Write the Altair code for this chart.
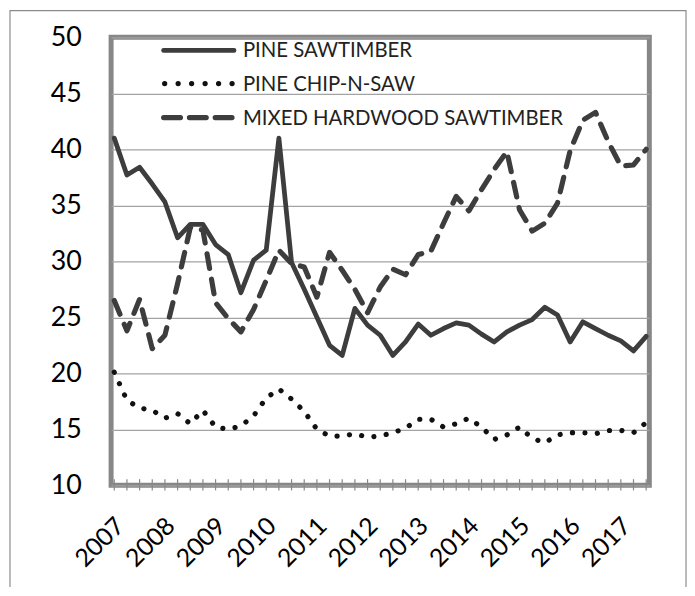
import altair as alt
import pandas as pd

# ---- data ----
years = ["2007", "2008", "2009", "2010", "2011", "2012", "2013", "2014", "2015", "2016", "2017"]
quarters = ["Q1", "Q2", "Q3", "Q4"]
periods = [f"{y} {q}" for y in years for q in quarters][:43]

series_names = ["PINE SAWTIMBER", "PINE CHIP-N-SAW", "MIXED HARDWOOD SAWTIMBER"]

pine_sawtimber = [41.0, 37.7, 38.4, 36.9, 35.3, 32.1, 33.3, 33.3, 31.5, 30.6, 27.2,
                  30.1, 31.0, 41.0, 29.9, 27.5, 25.0, 22.5, 21.6, 25.8, 24.3, 23.4,
                  21.6, 22.8, 24.4, 23.4, 24.0, 24.5, 24.3, 23.5, 22.8, 23.7, 24.3,
                  24.8, 25.9, 25.2, 22.8, 24.6, 24.0, 23.4, 22.9, 22.0, 23.3]
pine_chip_n_saw = [20.1, 17.6, 16.9, 16.7, 16.0, 16.4, 15.5, 16.7, 15.2, 15.0, 15.3,
                   16.2, 17.8, 18.6, 17.7, 16.6, 15.0, 14.4, 14.4, 14.6, 14.3, 14.4,
                   14.7, 15.1, 15.9, 15.9, 15.2, 15.5, 16.0, 15.2, 14.1, 14.5, 15.2,
                   14.2, 13.8, 14.5, 14.7, 14.7, 14.6, 14.9, 14.9, 14.7, 15.6]
mixed_hardwood = [26.5, 23.8, 26.6, 22.2, 23.4, 28.0, 33.0, 32.8, 26.3, 24.9, 23.7,
                  25.7, 28.3, 31.0, 29.8, 29.5, 26.8, 30.8, 29.2, 27.5, 25.4, 27.7,
                  29.3, 28.8, 30.6, 30.9, 33.4, 35.8, 34.5, 36.4, 38.2, 39.8, 34.6,
                  32.7, 33.4, 35.2, 39.9, 42.6, 43.3, 40.7, 38.5, 38.6, 40.0]

y_ticks = [10, 15, 20, 25, 30, 35, 40, 45, 50]

df = pd.DataFrame({
    "period": periods,
    series_names[0]: pine_sawtimber,
    series_names[1]: pine_chip_n_saw,
    series_names[2]: mixed_hardwood,
}).melt(id_vars="period", var_name="series", value_name="price")

one = pd.DataFrame({"k": [0]})

FONT = "Lato"
LINE = "#3d3d3d"
FRAME = "#878787"
W, H = 543, 452

x_enc = alt.X(
    "period:O",
    sort=periods,
    scale=alt.Scale(type="point", padding=0.25),
    axis=alt.Axis(
        title=None,
        labelExpr="indexof(datum.label, 'Q1') >= 0 ? slice(datum.label, 0, 4) : ''",
        labelAngle=-45,
        labelAlign="right",
        labelBaseline="top",
        labelFont=FONT,
        labelFontSize=25,
        labelColor="#000000",
        labelPadding=28,
        labelOffset=-3,
        labelOverlap=False,
        labelBound=False,
        labelFlush=False,
        ticks=False,
        domain=False,
        grid=False,
    ),
)
y_enc = alt.Y(
    "price:Q",
    scale=alt.Scale(domain=[10, 50], nice=False, zero=False),
    axis=alt.Axis(
        title=None,
        values=y_ticks,
        labelFont=FONT,
        labelFontSize=27,
        labelColor="#000000",
        labelPadding=30,
        labelFlush=False,
        ticks=False,
        domain=False,
        grid=True,
        gridColor="#a3a3a3",
        gridWidth=1.3,
    ),
)

base = alt.Chart(df).encode(x=x_enc, y=y_enc)

solid = base.transform_filter(alt.datum.series == series_names[0]).mark_line(
    color=LINE, strokeWidth=4.8, strokeJoin="round", strokeCap="round")
dotted = base.transform_filter(alt.datum.series == series_names[1]).mark_line(
    color="#111111", strokeWidth=5.2, strokeDash=[0.1, 12.5], strokeCap="round", strokeJoin="round")
dashed = base.transform_filter(alt.datum.series == series_names[2]).mark_line(
    color=LINE, strokeWidth=5.2, strokeDash=[15, 11], strokeCap="round", strokeJoin="round")

# crossing tick marks on the category axis
ticks = alt.Chart(df).transform_filter(alt.datum.series == series_names[0]).mark_rule(
    color=FRAME, strokeWidth=1.2).encode(
    x=alt.X("period:O", sort=periods, scale=alt.Scale(type="point", padding=0.25)),
    y=alt.datum(9.55),
    y2=alt.datum(10.55),
)

# outer chart-area border
outer = alt.Chart(one).mark_rect(fill=None, stroke="#8c8c8c", strokeWidth=1.2).encode(
    x=alt.value(-102), x2=alt.value(580), y=alt.value(-27), y2=alt.value(620))

# manual legend
leg_x1, leg_x2, leg_tx = 53, 124, 133
leg_rows = [13.3, 46.7, 81.0]
legend_layers = [
    alt.Chart(one).mark_rule(color=LINE, strokeWidth=4.8, strokeCap="round").encode(
        x=alt.value(leg_x1), x2=alt.value(leg_x2), y=alt.value(leg_rows[0])),
    alt.Chart(one).mark_rule(color="#111111", strokeWidth=5.2, strokeDash=[0.1, 13.5],
                             strokeCap="round").encode(
        x=alt.value(leg_x1 + 1), x2=alt.value(leg_x2), y=alt.value(leg_rows[1])),
    alt.Chart(one).mark_rule(color=LINE, strokeWidth=5.2, strokeDash=[17, 9],
                             strokeCap="round").encode(
        x=alt.value(leg_x1), x2=alt.value(leg_x2), y=alt.value(leg_rows[2])),
]
for name, yy in zip(series_names, leg_rows):
    legend_layers.append(
        alt.Chart(one).mark_text(align="left", baseline="middle", font=FONT, fontSize=20.5,
                                 color="#222222").encode(
            x=alt.value(leg_tx), y=alt.value(yy + 1), text=alt.value(name)))

chart = alt.layer(outer, ticks, solid, dotted, dashed, *legend_layers).properties(
    width=W,
    height=H,
    padding={"left": 104, "top": 27, "right": 38, "bottom": 100},
    autosize=alt.AutoSizeParams(type="none"),
    background="white",
).configure_view(stroke=FRAME, strokeWidth=5)

chart.save("out.html", embed_options={"renderer": "svg", "actions": False})
